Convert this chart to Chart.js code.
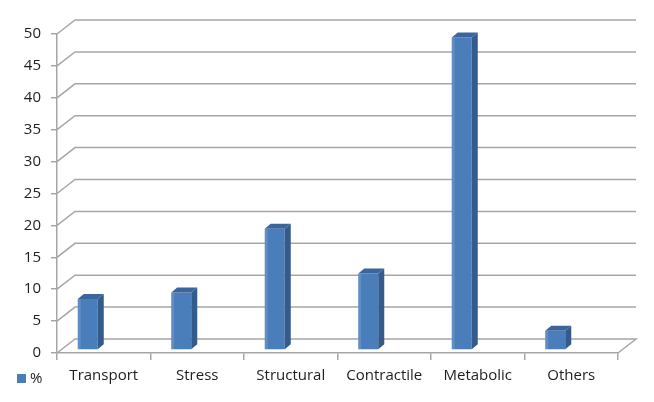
<!DOCTYPE html>
<html>
<head>
<meta charset="utf-8">
<script src="https://cdn.jsdelivr.net/npm/chart.js@4"></script>
<style>
  html, body { margin: 0; padding: 0; background: #fff; }
  canvas { display: block; }
</style>
</head>
<body>
<canvas id="chart" width="654" height="402"></canvas>
<script>
// Data
const categories = ['Transport', 'Stress', 'Structural', 'Contractile', 'Metabolic', 'Others'];
const percentValues = [8, 9, 19, 12, 49, 3];
const seriesLabel = '%';

// 3D look
const DEPTH_X = 18, DEPTH_Y = -14;      // back wall offset
const BAR_DX = 6, BAR_DY = -5;          // bar side/top depth
const BAR_SHIFT_X = -16, BAR_SHIFT_Y = -3;
const gridColor = '#a6a6a6';
const textColor = '#1e1e1e';
const faceColor = '#4a7ebb';
const sideColor = '#345b8b';
const topColor = '#3b669b';

const wallPlugin = {
    id: 'wall3d',
    beforeDatasetsDraw(chart) {
        const { ctx, chartArea, scales } = chart;
        const y = scales.y;
        ctx.save();
        ctx.strokeStyle = gridColor;
        ctx.lineWidth = 1.5;
        y.ticks.forEach(t => {
            const py = y.getPixelForValue(t.value);
            ctx.beginPath();
            ctx.moveTo(chartArea.left, py);
            ctx.lineTo(chartArea.left + DEPTH_X, py + DEPTH_Y);
            ctx.lineTo(chartArea.right + DEPTH_X, py + DEPTH_Y);
            if (t.value === 0) {
                ctx.lineTo(chartArea.right, py);
            }
            ctx.stroke();
        });
        ctx.restore();

        // shift bars into the depth of the floor
        ctx.save();
        ctx.translate(BAR_SHIFT_X, BAR_SHIFT_Y);
    },
    afterDatasetsDraw(chart) {
        const { ctx } = chart;
        const meta = chart.getDatasetMeta(0);
        meta.data.forEach(bar => {
            const l = bar.x - bar.width / 2;
            const r = bar.x + bar.width / 2;
            const top = bar.y;
            const base = bar.base;
            // light left edge of the face
            ctx.fillStyle = 'rgba(255,255,255,0.12)';
            ctx.fillRect(l, top, 3, base - top);
            // side
            ctx.fillStyle = sideColor;
            ctx.beginPath();
            ctx.moveTo(r, top);
            ctx.lineTo(r + BAR_DX, top + BAR_DY);
            ctx.lineTo(r + BAR_DX, base + BAR_DY);
            ctx.lineTo(r, base);
            ctx.closePath();
            ctx.fill();
            // top
            ctx.fillStyle = topColor;
            ctx.beginPath();
            ctx.moveTo(l, top);
            ctx.lineTo(l + BAR_DX, top + BAR_DY);
            ctx.lineTo(r + BAR_DX, top + BAR_DY);
            ctx.lineTo(r, top);
            ctx.closePath();
            ctx.fill();
        });
        ctx.restore();
    },
    afterDraw(chart) {
        // legend at bottom left
        const { ctx } = chart;
        ctx.save();
        ctx.fillStyle = faceColor;
        ctx.fillRect(17, 374, 9, 9);
        ctx.fillStyle = textColor;
        ctx.font = '15px "Open Sans"';
        ctx.textBaseline = 'middle';
        ctx.textAlign = 'left';
        ctx.fillText(chart.data.datasets[0].label, 30, 379);
        ctx.restore();
    }
};

new Chart(document.getElementById('chart'), {
    type: 'bar',
    data: {
        labels: categories,
        datasets: [{
            label: seriesLabel,
            data: percentValues,
            backgroundColor: faceColor,
            borderWidth: 0,
            categoryPercentage: 1,
            barPercentage: 0.214
        }]
    },
    options: {
        responsive: false,
        animation: false,
        devicePixelRatio: 1,
        layout: { padding: { top: 34, right: 36, left: 0, bottom: 0 } },
        plugins: {
            legend: { display: false },
            tooltip: { enabled: false }
        },
        scales: {
            x: {
                afterFit: s => { s.height = 49; },
                grid: {
                    drawOnChartArea: false,
                    offset: true,
                    tickLength: 7,
                    color: gridColor,
                    lineWidth: 1.5
                },
                border: { color: gridColor, width: 1.5 },
                ticks: {
                    color: textColor,
                    font: { family: '"Open Sans"', size: 15 },
                    padding: 7,
                    maxRotation: 0
                }
            },
            y: {
                min: 0,
                max: 50,
                afterFit: s => { s.width = 57; },
                grid: {
                    drawOnChartArea: false,
                    tickLength: 6,
                    color: gridColor,
                    lineWidth: 1.5
                },
                border: { color: gridColor, width: 1.5 },
                ticks: {
                    stepSize: 5,
                    color: textColor,
                    font: { family: '"Open Sans"', size: 15 },
                    padding: 10
                }
            }
        }
    },
    plugins: [wallPlugin]
});
</script>
</body>
</html>
